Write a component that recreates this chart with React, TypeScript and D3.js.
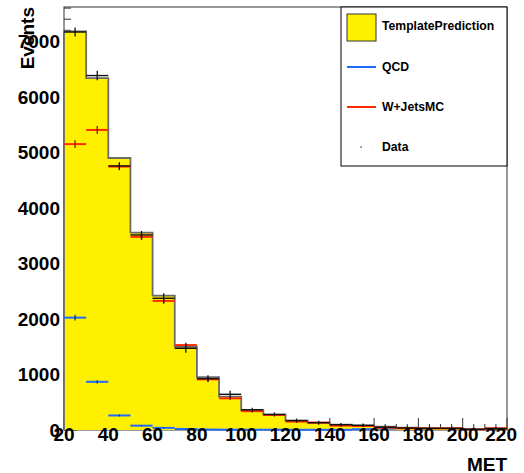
import React from "react";
import * as d3 from "d3";

// ---- data ----
const binEdges = [20, 30, 40, 50, 60, 70, 80, 90, 100, 110, 120, 130, 140, 150, 160, 170, 180, 190, 200, 210, 220];
const templatePrediction = [7180, 6340, 4900, 3555, 2420, 1500, 950, 600, 355, 278, 170, 132, 95, 80, 60, 42, 30, 30, 12, 30];
const qcd = [2024, 868, 262, 78, 38, 18, 8, 6, 5, 5, 4, 4, 4, 15, 25, 0, 0, 0, 0, 0];
const qcdErr = [50, 30, 18, 10, 8, 6, 4, 4, 3, 3, 3, 3, 3, 6, 8, 0, 0, 0, 0, 0];
const wjets = [5150, 5405, 4745, 3480, 2325, 1530, 913, 571, 340, 270, 152, 132, 78, 72, 42, 30, 30, 30, 12, 30];
const wjetsErr = [68, 72, 65, 60, 50, 40, 35, 30, 25, 20, 18, 18, 15, 15, 12, 10, 10, 10, 8, 10];
const dataValues = [7170, 6385, 4757, 3514, 2373, 1472, 925, 643, 365, 280, 170, 132, 96, 85, 50, 35, 30, 30, 12, 25];
const dataErr = [81, 85, 67, 70, 90, 81, 60, 66, 36, 36, 36, 36, 30, 30, 30, 30, 30, 30, 30, 30];
const xTickLabels = [20, 40, 60, 80, 100, 120, 140, 160, 180, 200, 220];
const yTickLabels = [0, 1000, 2000, 3000, 4000, 5000, 6000, 7000];
const legendEntries = ["TemplatePrediction", "QCD", "W+JetsMC", "Data"];

const W = 524;
const H = 473;
const FONT = "'Liberation Sans', Arial, Helvetica, sans-serif";
const YELLOW = "#fff000";
const BLUE = "#1f6bff";
const RED = "#ff2a00";

export default function App() {
  const x = d3.scaleLinear().domain([20, 220]).range([64, 507]);
  const y = d3.scaleLinear().domain([0, 7620]).range([430, 7]);
  const [x0, x1] = x.range();
  const [yb, yt] = y.range();

  const minorX = d3.range(20, 220.001, 5);
  const minorY = d3.range(0, 7620, 200);

  const stepPts: { x: number; v: number }[] = [{ x: 20, v: 0 }];
  templatePrediction.forEach((v, i) => stepPts.push({ x: binEdges[i], v }));
  stepPts.push({ x: 220, v: templatePrediction[templatePrediction.length - 1] });
  stepPts.push({ x: 220, v: 0 });

  const area = d3
    .area<{ x: number; v: number }>()
    .curve(d3.curveStepAfter)
    .x((d) => x(d.x))
    .y0(y(0))
    .y1((d) => y(d.v));
  const line = d3
    .line<{ x: number; v: number }>()
    .curve(d3.curveStepAfter)
    .x((d) => x(d.x))
    .y((d) => y(d.v));

  const errSeries = (
    vals: number[],
    errs: number[],
    color: string,
    vColor: string,
    hw: number,
    key: string
  ) =>
    vals.map((v, i) => {
      if (v <= 0) return null;
      const lo = binEdges[i];
      const hi = binEdges[i + 1];
      const c = (lo + hi) / 2;
      return (
        <g key={key + i}>
          <line x1={x(lo)} x2={x(hi)} y1={y(v)} y2={y(v)} stroke={color} strokeWidth={hw} />
          <line
            x1={x(c)}
            x2={x(c)}
            y1={y(Math.max(0, v - errs[i]))}
            y2={y(v + errs[i])}
            stroke={vColor}
            strokeWidth={1.3}
          />
        </g>
      );
    });

  const legX = 341;
  const legY = 7;
  const legW = 507 - 341;
  const legH = 159;
  const rowY = [26, 67, 107, 147];

  return (
    <svg
      width={W}
      height={H}
      style={{ position: "absolute", left: 0, top: 0, display: "block", background: "#fff" }}
      fontFamily={FONT}
    >
      <rect x={0} y={0} width={W} height={H} fill="#fff" />
      {/* frame & ticks (drawn under histograms) */}
      <rect x={x0} y={yt} width={x1 - x0} height={yb - yt} fill="none" stroke="#333" strokeWidth={1} />
      {minorX.map((t) => {
        const major = (t - 20) % 20 === 0;
        return (
          <line key={"xt" + t} x1={x(t)} x2={x(t)} y1={yb} y2={yb - (major ? 12 : 6)} stroke="#333" strokeWidth={1} />
        );
      })}
      {minorY.map((t) => {
        const major = t % 1000 === 0;
        return (
          <line key={"yt" + t} x1={x0} x2={x0 + (major ? 13 : 7)} y1={y(t)} y2={y(t)} stroke="#333" strokeWidth={1} />
        );
      })}

      {/* template prediction */}
      <path d={area(stepPts) || ""} fill={YELLOW} stroke="none" />
      <path d={line(stepPts) || ""} fill="none" stroke="#6b6b6b" strokeWidth={1.8} />

      {/* QCD, W+Jets, Data */}
      {errSeries(qcd, qcdErr, BLUE, "#0b2f8a", 2, "q")}
      {errSeries(wjets, wjetsErr, RED, "#7a1a10", 2, "w")}
      {errSeries(dataValues, dataErr, "#111", "#111", 1.4, "d")}

      {/* tick labels */}
      {xTickLabels.map((t, i) => {
        const last = i === xTickLabels.length - 1;
        return (
          <text
            key={"xl" + t}
            x={last ? 517 : x(t)}
            y={441}
            textAnchor={last ? "end" : "middle"}
            fontSize={19}
            fontWeight="bold"
            fill="#000"
          >
            {t}
          </text>
        );
      })}
      {yTickLabels.map((t) => (
        <text
          key={"yl" + t}
          x={60}
          y={y(t)}
          dy="0.36em"
          textAnchor="end"
          fontSize={19}
          fontWeight="bold"
          fill="#000"
        >
          {t}
        </text>
      ))}

      {/* axis titles */}
      <text x={507} y={471} textAnchor="end" fontSize={19} fontWeight="bold" fill="#000">
        MET
      </text>
      <text
        transform={`translate(34, 7) rotate(-90)`}
        textAnchor="end"
        fontSize={19}
        fontWeight="bold"
        fill="#000"
      >
        Events
      </text>

      {/* legend */}
      <rect x={legX} y={legY} width={legW} height={legH} fill="#fff" stroke="#000" strokeWidth={1} />
      <rect x={347} y={14} width={29} height={27} fill={YELLOW} stroke="#333" strokeWidth={1} />
      <line x1={347} x2={376} y1={rowY[1]} y2={rowY[1]} stroke={BLUE} strokeWidth={2} />
      <line x1={347} x2={376} y1={rowY[2]} y2={rowY[2]} stroke={RED} strokeWidth={2} />
      <rect x={360.5} y={rowY[3] - 0.5} width={1.2} height={1.2} fill="#000" />
      {legendEntries.map((label, i) => (
        <text key={label} x={382} y={rowY[i]} dy="0.36em" fontSize={12.2} fontWeight="bold" fill="#000">
          {label}
        </text>
      ))}
    </svg>
  );
}
